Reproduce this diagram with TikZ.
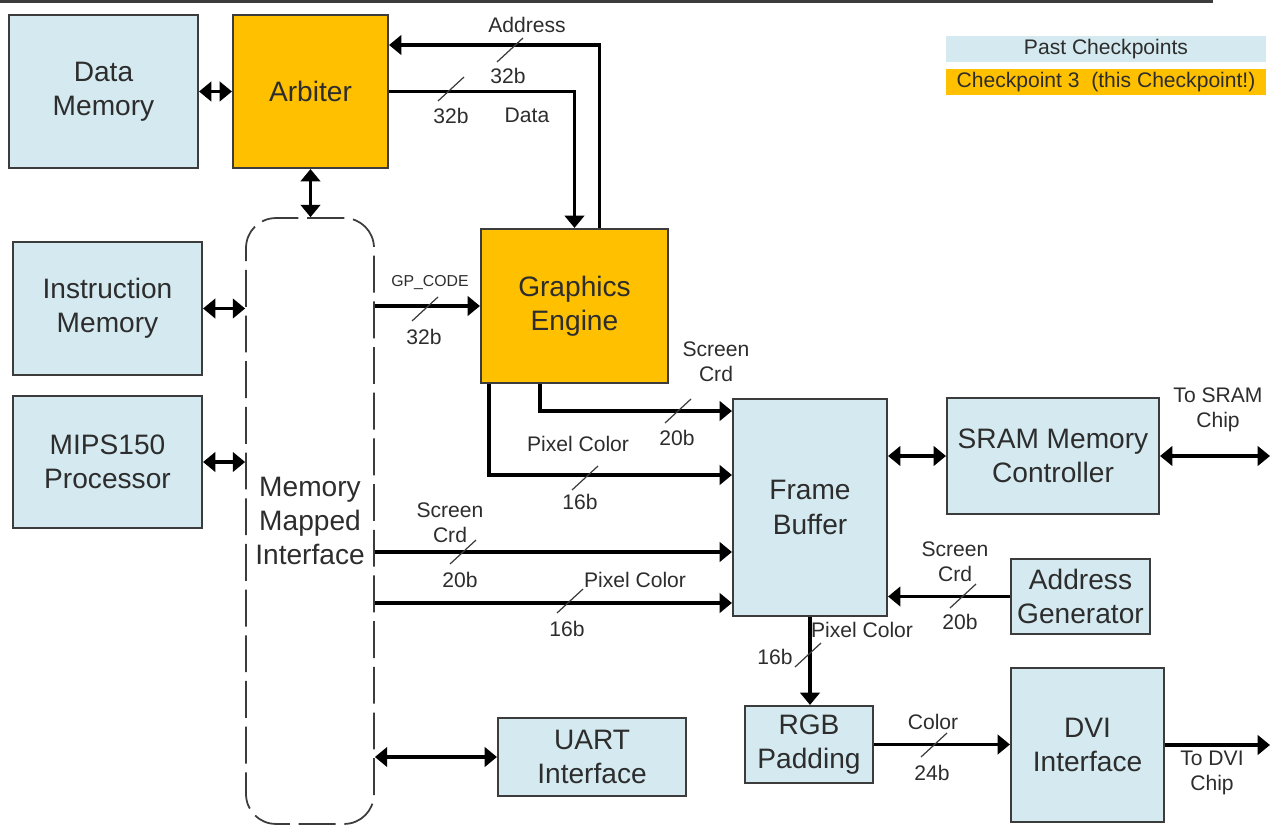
\documentclass[tikz,border=0pt]{standalone}
\usepackage{fontspec}
\setmainfont{Liberation Sans}
\usetikzlibrary{arrows.meta}
\definecolor{pastblue}{RGB}{212,234,240}
\definecolor{cpgold}{RGB}{255,192,0}
\definecolor{ink}{RGB}{45,45,45}
\definecolor{edge}{RGB}{60,60,60}
\begin{document}
\begin{tikzpicture}[x=0.02cm,y=-0.02cm,
	blk/.style={draw=edge,line width=1.2pt,text=ink,align=center,inner sep=0pt,font=\fontsize{16}{19.5}\selectfont},
	oldblk/.style={blk,fill=pastblue},
	newblk/.style={blk,fill=cpgold},
	bus/.style={line width=1.8pt,-{Triangle[length=7pt,width=11pt]}},
	dbus/.style={line width=1.8pt,{Triangle[length=7pt,width=11pt]}-{Triangle[length=7pt,width=11pt]}},
	lbl/.style={text=ink,align=center,inner sep=0pt,font=\fontsize{12}{14}\selectfont},
	busmark/.style={draw=edge,line width=0.7pt}]
	\useasboundingbox (0,0) rectangle (1277,827);
	\draw[edge,line width=1.2pt] (0,1.5)--(1213,1.5);
	% blocks
	\node[oldblk,minimum width=3.78cm,minimum height=3.06cm] (datamem) at (103.5,91.5) {Data\\Memory};
	\node[newblk,minimum width=3.10cm,minimum height=3.06cm] (arbiter) at (310.5,91.5) {Arbiter};
	\node[oldblk,minimum width=3.78cm,minimum height=2.66cm] (instmem) at (107.5,308.5) {Instruction\\Memory};
	\node[oldblk,minimum width=3.78cm,minimum height=2.64cm] (mips) at (107.5,462) {MIPS150\\Processor};
	\node[blk,line width=1pt,dash pattern=on 21pt off 5pt,rounded corners=17pt,minimum width=2.56cm,minimum height=12.12cm] (mmi) at (310,521) {Memory\\Mapped\\Interface};
	\node[newblk,minimum width=3.74cm,minimum height=3.08cm] (gfx) at (574.5,306) {Graphics\\Engine};
	\node[oldblk,minimum width=3.08cm,minimum height=4.34cm] (fb) at (810,507.5) {Frame\\Buffer};
	\node[oldblk,minimum width=4.24cm,minimum height=2.32cm] (sram) at (1053,456) {SRAM Memory\\Controller};
	\node[oldblk,minimum width=2.78cm,minimum height=1.50cm] (addrgen) at (1080.5,596.5) {Address\\Generator};
	\node[oldblk,minimum width=2.56cm,minimum height=1.54cm] (rgb) at (809,744.5) {RGB\\Padding};
	\node[oldblk,minimum width=3.06cm,minimum height=3.08cm] (dvi) at (1087.5,745) {DVI\\Interface};
	\node[oldblk,minimum width=3.76cm,minimum height=1.56cm] (uart) at (592,757) {UART\\Interface};
	\coordinate (sramchip) at (1270,456);
	\coordinate (dvichip) at (1270,745);
	% key
	\node[lbl,fill=pastblue,minimum width=6.4cm,minimum height=0.52cm] (pastkey) at (1106,49) {Past Checkpoints};
	\node[lbl,fill=cpgold,minimum width=6.4cm,minimum height=0.52cm] (cpkey) at (1106,82) {Checkpoint 3\ \ (this Checkpoint!)};
	% connections
	\draw[dbus] (datamem)--(arbiter);
	\draw[dbus] (arbiter.south)--(arbiter.south|-mmi.north);
	\draw[bus] ([xshift=0.5cm]gfx.north) |- ([yshift=0.93cm]arbiter.east);
	\draw[bus] (arbiter.east) -| (gfx.north);
	\draw[dbus] (instmem.east)--(instmem.east-|mmi.west);
	\draw[dbus] (mips.east)--(mips.east-|mmi.west);
	\draw[bus] (mmi.east|-gfx.west)--(gfx.west);
	\draw[bus] ([xshift=-0.69cm]gfx.south) |- ([yshift=1.93cm]fb.west);
	\draw[bus] ([xshift=-1.71cm]gfx.south) |- ([yshift=0.65cm]fb.west);
	\draw[bus] ([yshift=-0.89cm]fb.west-|mmi.east)--([yshift=-0.89cm]fb.west);
	\draw[bus] ([yshift=-1.91cm]fb.west-|mmi.east)--([yshift=-1.91cm]fb.west);
	\draw[dbus] (sram.west-|fb.east)--(sram.west);
	\draw[dbus] (sram.east)--(sramchip);
	\draw[bus] (addrgen.west)--(addrgen.west-|fb.east);
	\draw[bus] (fb.south)--(fb.south|-rgb.north);
	\draw[bus] (rgb.east)--(rgb.east-|dvi.west);
	\draw[bus] (dvi.east)--(dvichip);
	\draw[dbus] (uart.west-|mmi.east)--(uart.west);
	% bus widths
	\foreach \p in {(510,50),(451,89),(425,309),(678,411),(585,478),(463,552),(570,601),(963,596),(808,655),(934,745)}
		\draw[busmark] \p +(-13,12)--+(13,-12);
	\node[lbl] (addrlbl) at (527,25) {Address};
	\node[lbl] (addrw) at (508,76) {32b};
	\node[lbl] (dataw) at (451,116) {32b};
	\node[lbl] (datalbl) at (527,115) {Data};
	\node[lbl,font=\fontsize{9}{11}\selectfont] (gplbl) at (430,283) {GP\_CODE};
	\node[lbl] (gpw) at (424,337) {32b};
	\node[lbl] (gscrlbl) at (716,362) {Screen\\Crd};
	\node[lbl] (gscrw) at (677,438) {20b};
	\node[lbl] (gpixlbl) at (578,444) {Pixel Color};
	\node[lbl] (gpixw) at (580,502) {16b};
	\node[lbl] (mscrlbl) at (450,523) {Screen\\Crd};
	\node[lbl] (mscrw) at (460,580) {20b};
	\node[lbl] (mpixlbl) at (635,580) {Pixel Color};
	\node[lbl] (mpixw) at (567,629) {16b};
	\node[lbl] (ascrlbl) at (955,562) {Screen\\Crd};
	\node[lbl] (ascrw) at (960,622) {20b};
	\node[lbl] (fpixlbl) at (862,630) {Pixel Color};
	\node[lbl] (fpixw) at (775,657) {16b};
	\node[lbl] (collbl) at (933,722) {Color};
	\node[lbl] (colw) at (932,773) {24b};
	\node[lbl] (sramlbl) at (1218,410) {To SRAM\\Chip};
	\node[lbl] (dvilbl) at (1212,773) {To DVI\\Chip};
\end{tikzpicture}
\end{document}
